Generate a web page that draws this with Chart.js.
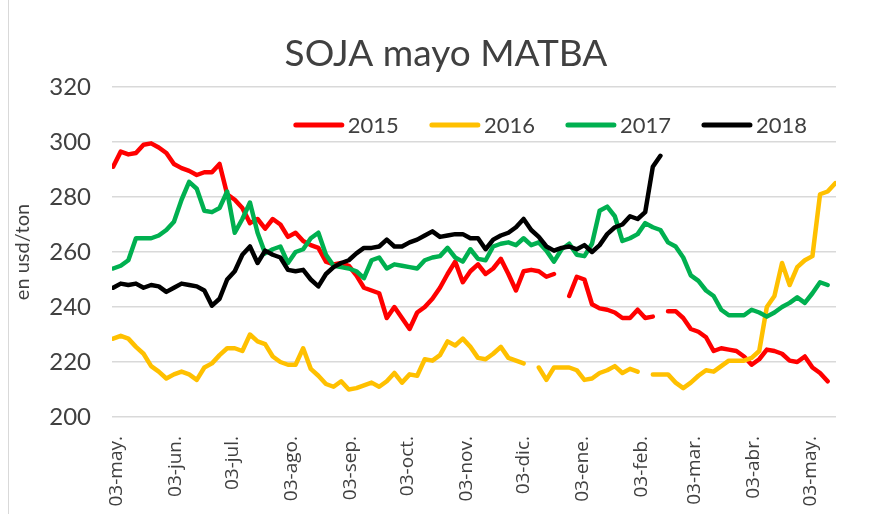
<!DOCTYPE html>
<html>
<head>
<meta charset="utf-8">
<script src="https://cdn.jsdelivr.net/npm/chart.js@4.4.0/dist/chart.umd.min.js"></script>
<style>
  html, body { margin: 0; padding: 0; background: #fff; }
  #wrap { position: relative; width: 875px; height: 514px; }
  #frame { position: absolute; left: 8px; top: 0; width: 1px; height: 514px; background: #d9d9d9; }
</style>
</head>
<body>
<div id="wrap">
  <canvas id="chart" width="875" height="514"></canvas>
  <div id="frame"></div>
</div>
<script>
// days counted from 03-may
const days = [
  -2, 2, 6, 10, 14, 18, 22, 26, 30, 34,
  38, 42, 46, 50, 54, 58, 62, 66, 70, 74,
  78, 82, 86, 90, 94, 98, 102, 106, 110, 114,
  118, 122, 126, 130, 134, 138, 142, 146, 150, 154,
  158, 162, 166, 170, 174, 178, 182, 186, 190, 194,
  198, 202, 206, 210, 214, 218, 222, 226, 230, 234,
  238, 242, 246, 250, 254, 258, 262, 266, 270, 274,
  278, 282, 286, 290, 294, 298, 302, 306, 310, 314,
  318, 322, 326, 330, 334, 338, 342, 346, 350, 354,
  358, 362, 366, 370, 374, 378
];

const tickDays = [0, 31, 61, 92, 123, 153, 184, 214, 245, 276, 304, 335, 365];
const tickLabels = ['03-may.', '03-jun.', '03-jul.', '03-ago.', '03-sep.', '03-oct.', '03-nov.',
  '03-dic.', '03-ene.', '03-feb.', '03-mar.', '03-abr.', '03-may.'];
const yTicks = [200, 220, 240, 260, 280, 300, 320];

const s2015 = [
  291, 296.5, 295.5, 296, 299, 299.5, 298, 296, 292, 290.5,
  289.5, 288, 289, 289, 292, 281, 279, 276, 270.5, 272,
  268.5, 272, 270, 265.5, 267, 264, 262.5, 261.5, 256.5, 255.5,
  256, 255, 251.5, 247, 246, 245, 236, 240, 236, 232,
  238, 240, 243, 247, 252, 256.5, 249, 253, 255.5, 252,
  254, 257.5, 252, 246, 253, 253.5, 253, 251, 252, null,
  244, 251, 250, 241, 239.5, 239, 238, 236, 236, 239,
  236, 236.5, null, 238.5, 238.5, 236, 232, 231, 229, 224,
  225, 224.5, 224, 222, 219, 221, 224.5, 224, 223, 220.5,
  220, 222, 218, 216, 213, null
];

const s2016 = [
  228.5, 229.5, 228.5, 225.5, 223, 218.5, 216.5, 214, 215.5, 216.5,
  215.5, 213.5, 218, 219.5, 222.5, 225, 225, 224, 230, 227.5,
  226.5, 222, 220, 219, 219, 225, 217.5, 215, 212, 211,
  213, 210, 210.5, 211.5, 212.5, 211, 213, 216, 212.5, 215.5,
  215, 221, 220.5, 222.5, 227.5, 226, 228.5, 225.5, 221.5, 221,
  223, 225.5, 221.5, 220.5, 219.5, null, 218, 213.5, 218, 218,
  218, 217, 213.5, 214, 216, 217, 218.5, 216, 217.5, 216.5,
  null, 215.5, 215.5, 215.5, 212.5, 210.5, 212.5, 215, 217, 216.5,
  218.5, 220.5, 220.5, 220.5, 221.5, 224, 240, 244, 256, 248,
  254.5, 257, 258.5, 281, 282, 285
];

const s2017 = [
  254, 255, 257, 265, 265, 265, 266, 268, 271, 279,
  285.5, 283, 275, 274.5, 276, 282, 267, 272, 278, 267,
  259.5, 261, 262, 256, 260, 261, 265, 267, 259, 255,
  254.5, 254, 253, 250.5, 257, 258, 254, 255.5, 255, 254.5,
  254, 257, 258, 258.5, 261.5, 258, 256.5, 261, 257.5, 257,
  262, 263, 263.5, 262.5, 265, 262.5, 263.5, 260.5, 256.5, 261,
  263, 259, 258.5, 263, 275, 276.5, 273, 264, 265, 266.5,
  270.5, 269, 268, 263.5, 262, 258, 251.5, 249.5, 246, 244,
  239, 237, 237, 237, 239, 238, 236.5, 238, 240, 241.5,
  243.5, 241.5, 245, 249, 248, null
];

const s2018 = [
  247, 248.5, 248, 248.5, 247, 248, 247.5, 245.5, 247, 248.5,
  248, 247.5, 246, 240.5, 243, 250, 253, 259, 262, 256,
  260.5, 259, 258, 253.5, 253, 253.5, 250, 247.5, 252, 254.5,
  256, 257, 259.5, 261.5, 261.5, 262, 264.5, 262, 262, 263.5,
  264.5, 266, 267.5, 265.5, 266, 266.5, 266.5, 265, 265, 261,
  264.5, 266, 267, 269, 272, 268, 265.5, 262, 260.5, 261.5,
  262, 261, 262.5, 260, 262.5, 266.5, 269, 270, 273, 272,
  274.5, 291, 295, null, null, null, null, null, null, null,
  null, null, null, null, null, null, null, null, null, null,
  null, null, null, null, null, null
];

const seriesNames = ['2015', '2016', '2017', '2018'];
const seriesColors = ['#ff0000', '#ffc000', '#00b050', '#000000'];
const seriesValues = [s2015, s2016, s2017, s2018];

const chartTitle = 'SOJA mayo MATBA';
const textColor = '#404040';

const datasets = seriesValues.map((vals, k) => ({
  label: seriesNames[k],
  data: days.map((d, i) => ({x: d, y: vals[i]})),
  borderColor: seriesColors[k],
  backgroundColor: seriesColors[k],
  borderWidth: 4.5,
  pointRadius: 0,
  pointHoverRadius: 0,
  borderCapStyle: 'round',
  borderJoinStyle: 'round',
  tension: 0,
  fill: false,
  spanGaps: false,
  order: 4 - k
}));

// title and one-row legend sitting inside the plot, like the excel chart
const titleAndLegend = {
  id: 'titleAndLegend',
  afterDraw(chart) {
    const {ctx, chartArea} = chart;
    ctx.save();

    ctx.fillStyle = textColor;
    ctx.font = '37px Lato';
    ctx.textAlign = 'center';
    ctx.textBaseline = 'middle';
    ctx.fillText(chartTitle, (chartArea.left + chartArea.right) / 2 - 28, 54);

    ctx.font = '22px Lato';
    ctx.textAlign = 'left';
    const lineLen = 46;
    const gap = 6;
    const itemGap = 33;
    const items = chart.data.datasets;
    const widths = items.map(ds => ctx.measureText(ds.label).width);
    const total = widths.reduce((a, w) => a + lineLen + gap + w, 0) + itemGap * (items.length - 1);
    let x = chartArea.right - 29 - total;
    const y = chartArea.top + 38;
    items.forEach((ds, i) => {
      ctx.strokeStyle = ds.borderColor;
      ctx.lineWidth = 5;
      ctx.lineCap = 'round';
      ctx.beginPath();
      ctx.moveTo(x, y);
      ctx.lineTo(x + lineLen, y);
      ctx.stroke();
      ctx.fillStyle = textColor;
      ctx.fillText(ds.label, x + lineLen + gap, y + 1);
      x += lineLen + gap + widths[i] + itemGap;
    });
    ctx.restore();
  }
};

new Chart(document.getElementById('chart'), {
  type: 'line',
  data: {datasets},
  plugins: [titleAndLegend],
  options: {
    responsive: false,
    animation: false,
    devicePixelRatio: 1,
    layout: {padding: {left: 0, right: 39, top: 87, bottom: 0}},
    plugins: {
      title: {display: false},
      legend: {display: false},
      tooltip: {enabled: false}
    },
    scales: {
      x: {
        type: 'linear',
        min: -2.6,
        max: 378.4,
        afterBuildTicks(scale) {
          scale.ticks = tickDays.map(v => ({value: v}));
        },
        afterFit(scale) {
          scale.height = 97;
        },
        grid: {display: false},
        border: {display: false},
        ticks: {
          autoSkip: false,
          maxRotation: 90,
          minRotation: 90,
          padding: 11,
          color: textColor,
          font: {family: 'Open Sans', size: 19},
          callback: (value, index) => tickLabels[index]
        }
      },
      y: {
        min: 200,
        max: 320,
        afterBuildTicks(scale) {
          scale.ticks = yTicks.map(v => ({value: v}));
        },
        afterFit(scale) {
          scale.width = 112;
        },
        grid: {color: '#d9d9d9', lineWidth: 1.5, drawTicks: false},
        border: {display: false},
        ticks: {
          padding: 21,
          color: textColor,
          font: {family: 'Lato', size: 24}
        },
        title: {
          display: true,
          text: 'en usd/ton',
          color: textColor,
          font: {family: 'Lato', size: 20},
          padding: {top: 11, bottom: 0}
        }
      }
    }
  }
});
</script>
</body>
</html>
